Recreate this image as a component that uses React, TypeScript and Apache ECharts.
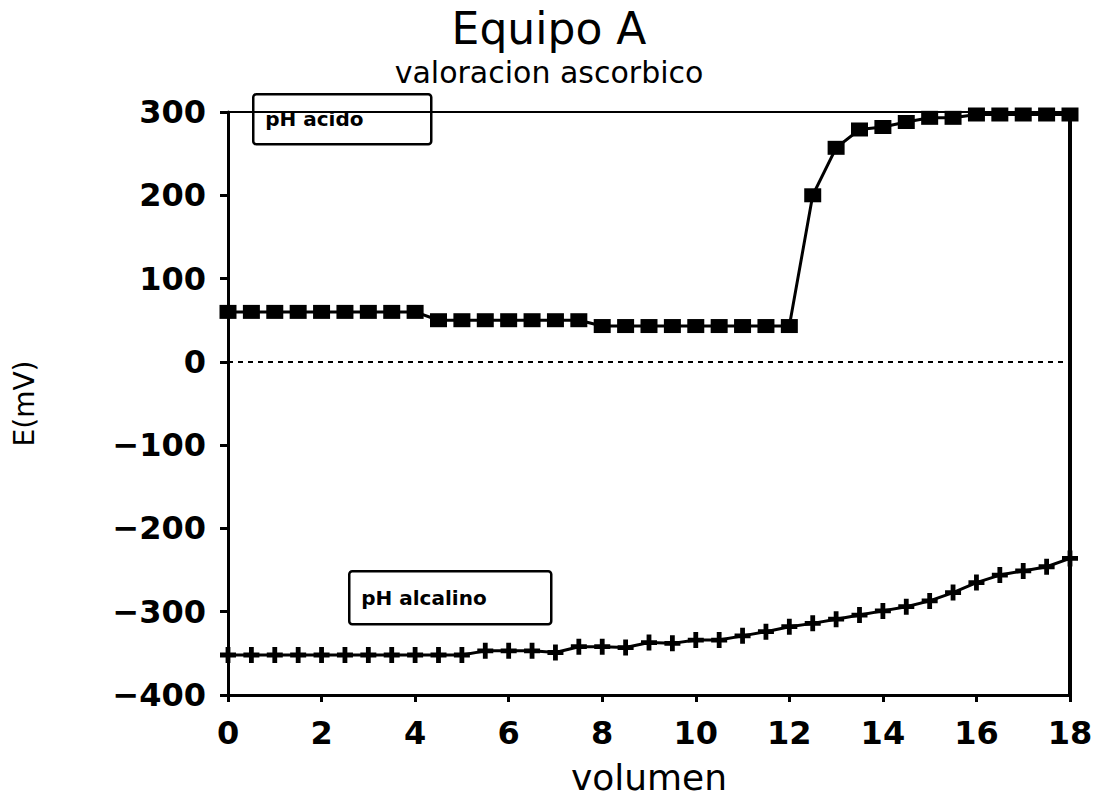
import React, { useEffect, useRef } from "react";
import * as echarts from "echarts";

const volumen = [
  0, 0.5, 1, 1.5, 2, 2.5, 3, 3.5, 4, 4.5, 5, 5.5, 6, 6.5, 7, 7.5, 8, 8.5, 9,
  9.5, 10, 10.5, 11, 11.5, 12, 12.5, 13, 13.5, 14, 14.5, 15, 15.5, 16, 16.5,
  17, 17.5, 18,
];
const phAcido = [
  60, 60, 60, 60, 60, 60, 60, 60, 60, 50, 50, 50, 50, 50, 50, 50, 43, 43, 43,
  43, 43, 43, 43, 43, 43, 200, 257, 279, 282, 288, 293, 293, 297, 297, 297,
  297, 297,
];
const phAlcalino = [
  -352, -352, -352, -352, -352, -352, -352, -352, -352, -352, -352, -347, -347,
  -347, -349, -342, -342, -343, -337, -338, -334, -334, -329, -324, -318, -314,
  -309, -304, -299, -294, -287, -277, -265, -256, -251, -246, -236,
];
const titleText = "Equipo A";
const subtitleText = "valoracion ascorbico";
const xName = "volumen";
const yName = "E(mV)";
const labelAcido = "pH acido";
const labelAlcalino = "pH alcalino";

const FONT = "DejaVu Sans";
const PLUS =
  "path://M3.5,0 H6.5 V3.5 H10 V6.5 H6.5 V10 H3.5 V6.5 H0 V3.5 H3.5 Z";

export default function App() {
  const ref = useRef<HTMLDivElement>(null);
  useEffect(() => {
    if (!ref.current) return;
    const chart = echarts.init(ref.current, null, { renderer: "svg" });
    const pairs = (ys: number[]) => volumen.map((x, i) => [x, ys[i]]);
    const hiddenAxis = {
      axisLabel: { show: false },
      axisTick: { show: false },
      splitLine: { show: false },
    };
    chart.setOption({
      animation: false,
      backgroundColor: "#fff",
      title: [
        {
          text: titleText,
          left: "center",
          top: 4,
          padding: 0,
          textStyle: {
            fontFamily: FONT,
            fontSize: 44,
            lineHeight: 48,
            fontWeight: "normal",
            color: "#000",
          },
        },
        {
          text: subtitleText,
          left: "center",
          top: 55,
          padding: 0,
          textStyle: {
            fontFamily: FONT,
            fontSize: 30,
            lineHeight: 34,
            fontWeight: "normal",
            color: "#000",
          },
        },
      ],
      grid: { left: 228, right: 28, top: 112, bottom: 103 },
      xAxis: [
        {
          type: "value",
          min: 0,
          max: 18,
          interval: 2,
          name: xName,
          nameLocation: "middle",
          nameGap: 64,
          nameTextStyle: { fontFamily: FONT, fontSize: 36, color: "#000" },
          axisLine: { onZero: false, lineStyle: { color: "#000", width: 3 } },
          axisTick: { length: 7, lineStyle: { color: "#000", width: 3 } },
          axisLabel: {
            margin: 22,
            fontFamily: FONT,
            fontWeight: "bold",
            fontSize: 32,
            color: "#000",
          },
          splitLine: { show: false },
        },
        {
          type: "value",
          position: "top",
          min: 0,
          max: 18,
          axisLine: { onZero: false, lineStyle: { color: "#000", width: 2 } },
          ...hiddenAxis,
        },
      ],
      yAxis: [
        {
          type: "value",
          min: -400,
          max: 300,
          interval: 100,
          name: yName,
          nameLocation: "middle",
          nameRotate: 90,
          nameGap: 190,
          nameTextStyle: { fontFamily: FONT, fontSize: 28, color: "#000" },
          axisLine: { onZero: false, lineStyle: { color: "#000", width: 3 } },
          axisTick: { length: 8, lineStyle: { color: "#000", width: 3 } },
          axisLabel: {
            margin: 22,
            fontFamily: FONT,
            fontWeight: "bold",
            fontSize: 32,
            color: "#000",
            formatter: (v: number) => (v < 0 ? "\u2212" + Math.abs(v) : String(v)),
          },
          splitLine: { show: false },
        },
        {
          type: "value",
          position: "right",
          min: -400,
          max: 300,
          axisLine: { onZero: false, lineStyle: { color: "#000", width: 4 } },
          ...hiddenAxis,
        },
      ],
      series: [
        {
          type: "line",
          name: labelAcido,
          data: pairs(phAcido),
          symbol: "rect",
          symbolSize: [17, 14],
          lineStyle: { color: "#000", width: 3 },
          itemStyle: { color: "#000" },
          z: 5,
          markLine: {
            silent: true,
            symbol: "none",
            label: { show: false },
            lineStyle: { color: "#000", width: 2, type: [5, 5] },
            data: [{ yAxis: 0 }],
          },
        },
        {
          type: "line",
          name: labelAlcalino,
          data: pairs(phAlcalino),
          symbol: PLUS,
          symbolSize: 16,
          lineStyle: { color: "#000", width: 3 },
          itemStyle: { color: "#000" },
          z: 5,
        },
      ],
      graphic: [
        {
          type: "group",
          left: 252,
          top: 93,
          z: 100,
          children: [
            {
              type: "rect",
              shape: { x: 0, y: 0, width: 178, height: 50, r: 3 },
              style: { fill: "#fff", stroke: "#000", lineWidth: 2.5 },
            },
            {
              type: "text",
              x: 12,
              y: 25,
              style: {
                text: labelAcido,
                fontFamily: FONT,
                fontSize: 20,
                fontWeight: "bold",
                fill: "#000",
                verticalAlign: "middle",
              },
            },
          ],
        },
        {
          type: "group",
          left: 348,
          top: 570,
          z: 100,
          children: [
            {
              type: "rect",
              shape: { x: 0, y: 0, width: 202, height: 53, r: 3 },
              style: { fill: "#fff", stroke: "#000", lineWidth: 2.5 },
            },
            {
              type: "text",
              x: 12,
              y: 27,
              style: {
                text: labelAlcalino,
                fontFamily: FONT,
                fontSize: 20,
                fontWeight: "bold",
                fill: "#000",
                verticalAlign: "middle",
              },
            },
          ],
        },
      ],
    });
    return () => chart.dispose();
  }, []);
  return (
    <div
      ref={ref}
      style={{ position: "fixed", left: 0, top: 0, width: 1098, height: 800 }}
    />
  );
}
